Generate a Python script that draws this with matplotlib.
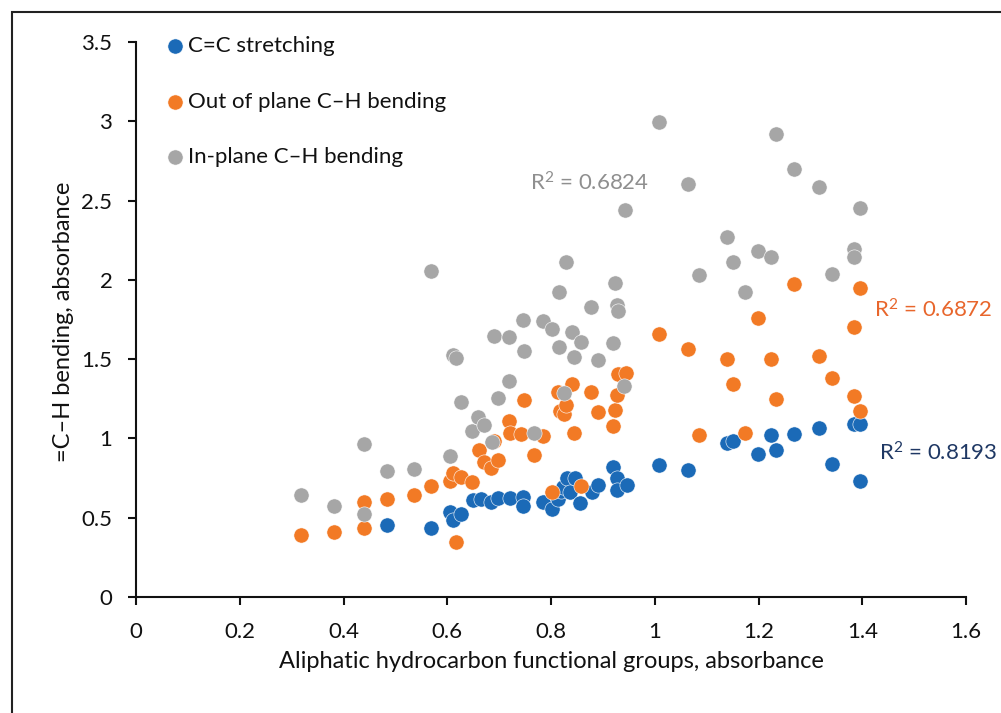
import matplotlib
matplotlib.use("Agg")
import matplotlib.pyplot as plt
from matplotlib.patches import Rectangle

# ---- data ----
cc_x = [0.484, 0.569, 0.605, 0.611, 0.627, 0.650, 0.666, 0.684, 0.697, 0.721,
        0.746, 0.746, 0.785, 0.802, 0.814, 0.820, 0.823, 0.830, 0.837, 0.846,
        0.856, 0.879, 0.891, 0.920, 0.927, 0.927, 0.946, 1.009, 1.064, 1.139,
        1.151, 1.199, 1.224, 1.233, 1.269, 1.317, 1.342, 1.385, 1.396, 1.396]
cc_y = [0.453, 0.433, 0.539, 0.488, 0.525, 0.611, 0.620, 0.597, 0.625, 0.625,
        0.631, 0.577, 0.600, 0.555, 0.617, 0.668, 0.694, 0.748, 0.662, 0.748,
        0.593, 0.662, 0.706, 0.820, 0.750, 0.675, 0.706, 0.835, 0.803, 0.970,
        0.984, 0.904, 1.021, 0.927, 1.027, 1.064, 0.841, 1.093, 1.093, 0.731]

oop_x = [0.318, 0.381, 0.440, 0.440, 0.484, 0.535, 0.569, 0.605, 0.611, 0.627,
         0.648, 0.617, 0.661, 0.670, 0.684, 0.690, 0.697, 0.719, 0.721, 0.748,
         0.743, 0.768, 0.785, 0.801, 0.814, 0.817, 0.826, 0.829, 0.841, 0.844,
         0.857, 0.877, 0.890, 0.920, 0.924, 0.928, 0.930, 0.945, 1.009, 1.064,
         1.086, 1.139, 1.151, 1.174, 1.199, 1.224, 1.233, 1.269, 1.317, 1.342,
         1.384, 1.385, 1.396, 1.396]
oop_y = [0.393, 0.410, 0.433, 0.597, 0.617, 0.645, 0.703, 0.731, 0.783, 0.754,
         0.726, 0.344, 0.927, 0.849, 0.812, 0.984, 0.863, 1.113, 1.036, 1.242,
         1.027, 0.898, 1.013, 0.663, 1.294, 1.170, 1.156, 1.213, 1.342, 1.036,
         0.697, 1.294, 1.165, 1.076, 1.179, 1.271, 1.409, 1.414, 1.658, 1.566,
         1.021, 1.500, 1.342, 1.036, 1.758, 1.500, 1.251, 1.971, 1.517, 1.380,
         1.704, 1.265, 1.951, 1.170]

ip_x = [0.318, 0.381, 0.440, 0.440, 0.484, 0.535, 0.569, 0.605, 0.611, 0.617,
        0.627, 0.648, 0.660, 0.670, 0.687, 0.690, 0.697, 0.719, 0.719, 0.746,
        0.748, 0.768, 0.785, 0.801, 0.816, 0.816, 0.826, 0.829, 0.841, 0.844,
        0.857, 0.877, 0.890, 0.920, 0.924, 0.928, 0.930, 0.940, 0.943, 1.009,
        1.064, 1.086, 1.139, 1.151, 1.174, 1.199, 1.224, 1.233, 1.269, 1.317,
        1.342, 1.384, 1.385, 1.396]
ip_y = [0.645, 0.574, 0.967, 0.525, 0.792, 0.806, 2.054, 0.889, 1.523, 1.509,
        1.228, 1.050, 1.133, 1.084, 0.978, 1.649, 1.256, 1.638, 1.363, 1.744,
        1.552, 1.033, 1.741, 1.692, 1.925, 1.578, 1.285, 2.111, 1.672, 1.515,
        1.609, 1.830, 1.495, 1.601, 1.982, 1.839, 1.802, 1.328, 2.441, 2.998,
        2.602, 2.031, 2.269, 2.111, 1.925, 2.180, 2.146, 2.920, 2.699, 2.585,
        2.040, 2.194, 2.146, 2.455]

series_labels = ["C=C stretching", "Out of plane C\u2013H bending", "In-plane C\u2013H bending"]
r2_labels = [r"R$^2$ = 0.8193", r"R$^2$ = 0.6872", r"R$^2$ = 0.6824"]
x_ticks = [0, 0.2, 0.4, 0.6, 0.8, 1, 1.2, 1.4, 1.6]
y_ticks = [0, 0.5, 1, 1.5, 2, 2.5, 3, 3.5]

# ---- style ----
plt.rcParams['font.family'] = ['Lato', 'DejaVu Sans']
plt.rcParams['mathtext.fontset'] = 'custom'
plt.rcParams['mathtext.rm'] = 'Lato'
plt.rcParams['mathtext.default'] = 'regular'
colors = ['#1B6AB7', '#F27A25', '#A6A6A6']
r2_colors = ['#1F3864', '#E8662C', '#8F8F8F']
fs = 16

fig = plt.figure(figsize=(10.01, 7.13), dpi=100)
ax = fig.add_axes([136/1001, 1-597/713, 830/1001, 555/713])

for xs, ys, c, lab in zip([cc_x, oop_x, ip_x], [cc_y, oop_y, ip_y], colors, series_labels):
    ax.scatter(xs, ys, s=120, color=c, edgecolors='white', linewidths=0.4, label=lab, zorder=3)

ax.set_xlim(0, 1.6)
ax.set_ylim(0, 3.5)
ax.set_xticks(x_ticks)
ax.set_xticklabels([f"{t:g}" for t in x_ticks])
ax.set_yticks(y_ticks)
ax.set_yticklabels([f"{t:g}" for t in y_ticks])
for s in ['top', 'right']:
    ax.spines[s].set_visible(False)
for s in ['left', 'bottom']:
    ax.spines[s].set_linewidth(1.5)
    ax.spines[s].set_color('#111111')
ax.tick_params(axis='both', direction='out', length=6, width=1.5, color='#111111',
               labelsize=fs, labelcolor='#111111')
ax.tick_params(axis='x', pad=12)
ax.tick_params(axis='y', pad=11)

# axis titles
fig.text((136 + 415)/1001, 1-662/713, "Aliphatic hydrocarbon functional groups, absorbance",
         fontsize=17, color='#111111', ha='center', va='center')
fig.text(63/1001, 1-322/713, "=C\u2013H bending, absorbance", rotation=90,
         fontsize=17, color='#111111', ha='center', va='center')

# R² annotations
ax.text(1.432, 0.908, r2_labels[0], color=r2_colors[0], fontsize=fs, va='center', ha='left')
ax.text(1.423, 1.81, r2_labels[1], color=r2_colors[1], fontsize=fs, va='center', ha='left')
ax.text(0.760, 2.61, r2_labels[2], color=r2_colors[2], fontsize=fs, va='center', ha='left')

leg = ax.legend(loc='upper left', bbox_to_anchor=(167/1001, 1-36/713), bbox_transform=fig.transFigure,
                frameon=False, fontsize=fs, labelspacing=1.6, handlelength=0.7,
                handletextpad=0.25, borderaxespad=0, borderpad=0)
for t in leg.get_texts():
    t.set_color('#111111')

# outer frame
fig.patches.append(Rectangle((12/1001, -0.1), 1.2, 1-12/713+0.1, transform=fig.transFigure,
                             fill=False, edgecolor='#222222', linewidth=1.5))

fig.savefig("out.png", dpi=100)
